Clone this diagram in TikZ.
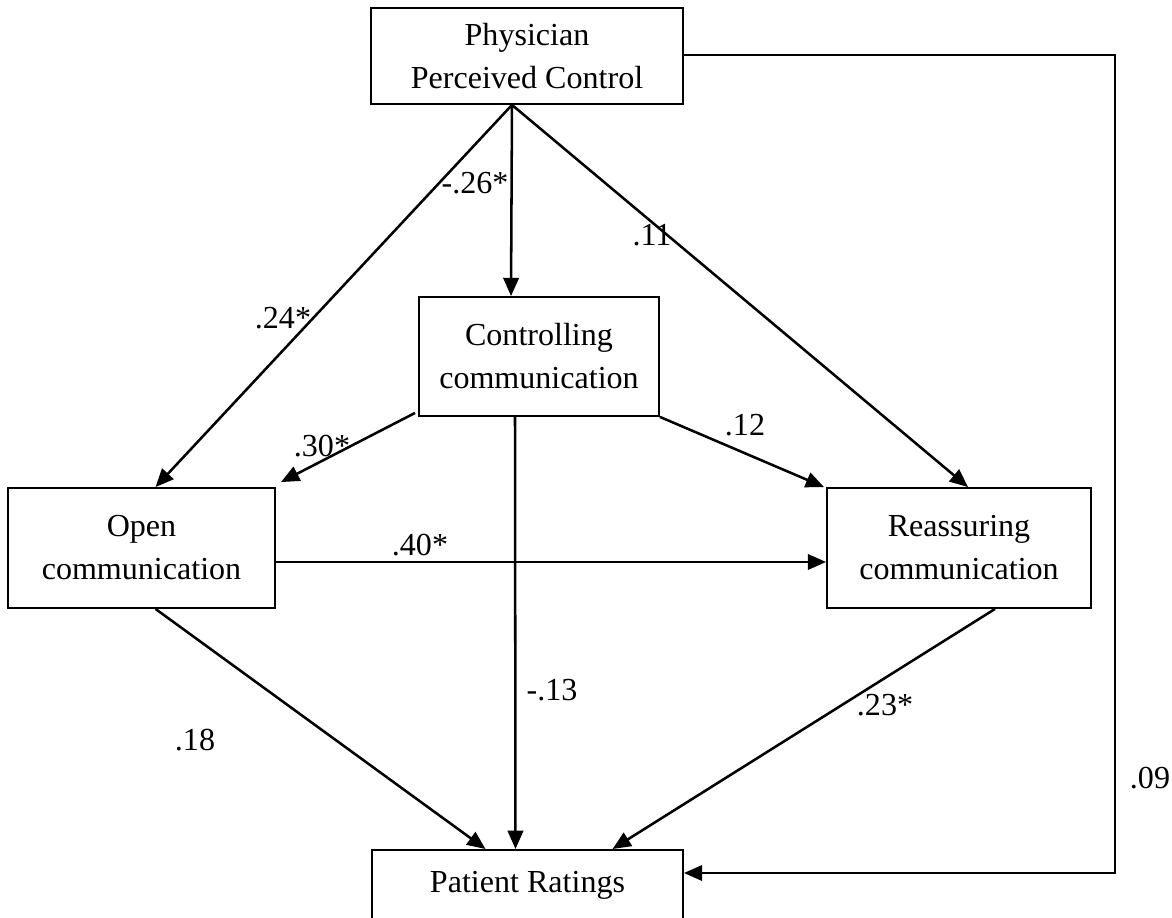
\documentclass[tikz,border=0pt]{standalone}
\usepackage{fontspec}
\setmainfont{Liberation Serif}
\usetikzlibrary{arrows.meta,calc}

\begin{document}
\begin{tikzpicture}[x=0.025cm,y=-0.025cm,
	font=\fontsize{22.8}{30.6}\selectfont,
	box/.style = {draw,line width=1.3pt,align=center,inner sep=0pt},
	arrow/.style = {line width=1.8pt,-{Triangle[length=13pt,width=11pt]}},
	coef/.style = {inner sep=0pt}]
	\useasboundingbox (0,0) rectangle (1172,918);
	\node[box,minimum width=7.8cm,minimum height=2.4cm] (phys) at (527,56) {Physician\\Perceived Control};
	\node[box,minimum width=6cm,minimum height=2.975cm] (ctrl) at (539,356.5) {Controlling\\communication};
	\node[box,minimum width=6.675cm,minimum height=3cm] (open) at (141.5,548) {Open\\communication};
	\node[box,minimum width=6.6cm,minimum height=3cm] (reas) at (959,548) {Reassuring\\communication};
	\node[box,minimum width=7.775cm,minimum height=2.65cm,anchor=north] (pat) at (527.5,849) {Patient Ratings\\\mbox{}};
	\coordinate (loop) at (1115,873);
	
	\draw[arrow] ($(phys.south)+(-15,0)$) -- ($(ctrl.north)+(-28,0)$);
	\draw[arrow] ($(phys.south)+(-15,0)$) -- ($(open.north)+(14,0)$);
	\draw[arrow] ($(phys.south)+(-15,0)$) -- ($(reas.north)+(9,0)$);
	\draw[arrow] ($(ctrl.south west)+(-3,-4)$) -- ($(open.north east)+(5,-5)$);
	\draw[arrow] (ctrl.south east) -- ($(reas.north west)+(-2,0)$);
	\draw[arrow] ($(ctrl.south)+(-24,0)$) -- ($(pat.north)+(-12,0)$);
	\draw[arrow] ($(open.east)+(0,14)$) -- ($(reas.west)+(0,14)$);
	\draw[arrow] ($(open.south)+(14,0)$) -- ($(pat.north)+(-42,0)$);
	\draw[arrow] ($(reas.south)+(36,0)$) -- ($(pat.north)+(85,0)$);
	\draw[arrow] ($(phys.east)+(0,-1)$) -| (loop) -- (loop -| pat.east);
	
	\node[coef] (c1) at (475,183) {-.26*};
	\node[coef] (c2) at (652,235) {.11};
	\node[coef] (c3) at (283,318) {.24*};
	\node[coef] (c4) at (322,446) {.30*};
	\node[coef] (c5) at (745,425) {.12};
	\node[coef] (c6) at (420,545) {.40*};
	\node[coef] (c7) at (552,690) {-.13};
	\node[coef] (c8) at (195,740) {.18};
	\node[coef] (c9) at (885,705) {.23*};
	\node[coef] (c10) at (1150,778) {.09};
\end{tikzpicture}
\end{document}
